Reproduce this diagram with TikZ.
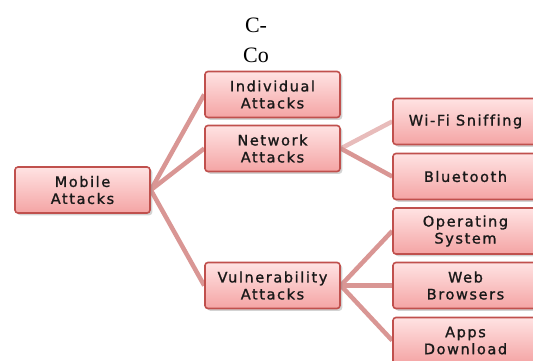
\documentclass[tikz,border=0pt]{standalone}
\usepackage{fontspec}
\setmainfont{Liberation Serif}
\newfontfamily\boxfont[LetterSpace=11, FakeBold=1.2, Ligatures=NoCommon]{DejaVu Sans}
\usetikzlibrary{shadows,backgrounds}

\definecolor{boxedge}{HTML}{C0504D}
\definecolor{boxtop}{HTML}{FFE3E3}
\definecolor{boxbottom}{HTML}{F4A4A4}
\definecolor{linkred}{HTML}{D99694}
\definecolor{linklight}{HTML}{E8BCBB}

\tikzset{
  attackbox/.style={draw=boxedge, line width=1.6pt, rounded corners=3pt,
    top color=boxtop, bottom color=boxbottom, drop shadow={opacity=0.35},
    minimum width=135pt, minimum height=46pt, align=center,
    text=black!90, font=\boxfont\fontsize{14.5}{17}\selectfont},
  widebox/.style={attackbox, minimum width=145pt},
  branch/.style={draw=linkred, line width=4.5pt},
}

\begin{document}
\begin{tikzpicture}[x=1pt, y=-1pt]
\useasboundingbox (0,0) rectangle (533,360);
\node[font=\fontsize{22}{30}\selectfont, align=center] (cc) at (256,40) {C-\\Co};

\node[attackbox] (mobile) at (82.5,190) {Mobile\\Attacks}; % root
\node[attackbox] (indiv) at (272.5,94.5) {Individual\\Attacks};
\node[attackbox] (net) at (272.5,148.5) {Network\\Attacks};
\node[attackbox] (vuln) at (272.5,285.5) {Vulnerability\\Attacks};

\node[widebox] (wifi) at (465.5,121.5) {Wi-Fi Sniffing};
\node[widebox] (blue) at (465.5,176.5) {Bluetooth};
\node[widebox] (os) at (465.5,231) {Operating\\System};
\node[widebox] (web) at (465.5,285.5) {Web\\Browsers};
\node[widebox] (apps) at (465.5,340.5) {Apps\\Download};

\begin{scope}[on background layer]
\draw[branch] (mobile.east) -- (indiv.west);
\draw[branch] (mobile.east) -- (net.west);
\draw[branch] (mobile.east) -- (vuln.west);
\draw[branch, draw=linklight] (net.east) -- (wifi.west);
\draw[branch] (net.east) -- (blue.west);
\draw[branch] (vuln.east) -- (os.west);
\draw[branch] (vuln.east) -- (web.west);
\draw[branch] (vuln.east) -- (apps.west);
\end{scope}
\end{tikzpicture}
\end{document}
